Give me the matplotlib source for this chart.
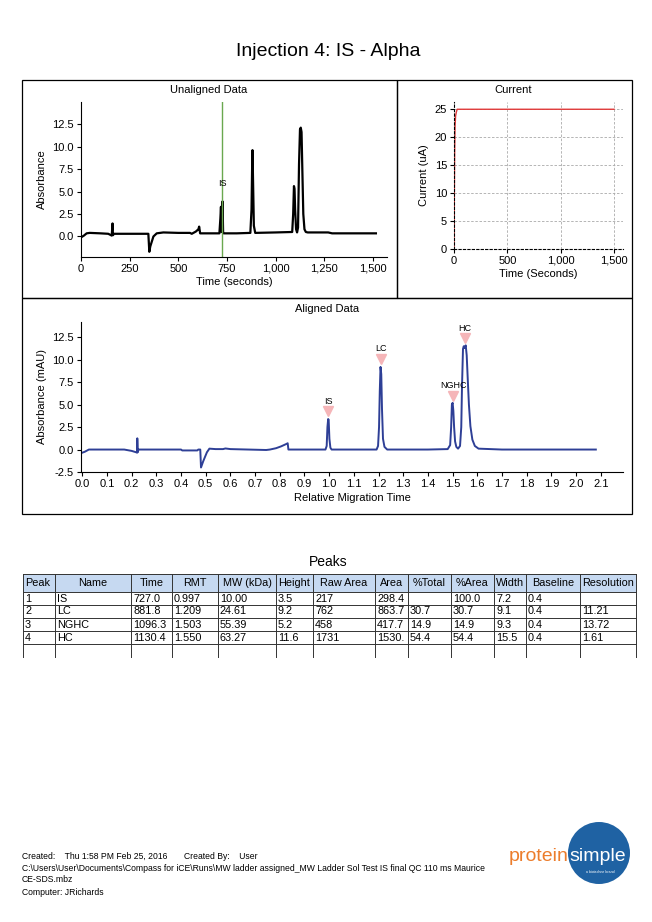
import matplotlib
matplotlib.use('Agg')
import matplotlib.pyplot as plt
from matplotlib.patches import Rectangle, Ellipse
from matplotlib.lines import Line2D
from matplotlib.ticker import FuncFormatter, MultipleLocator

plt.rcParams['font.family'] = ['Liberation Sans', 'DejaVu Sans']

# ---- data ----
# unaligned trace (time in s, absorbance)
unaligned_time = [0, 15, 29, 45, 100, 140, 158, 162, 163, 165, 168, 183, 300, 346, 351, 356, 372,
                  389, 423, 500, 560, 569, 590, 603, 607, 612, 700, 711, 716, 719, 722, 724,
                  727, 730, 733, 800, 870, 876, 879, 881, 884, 888, 895, 1000, 1085, 1090,
                  1094, 1097, 1100, 1105, 1110, 1115, 1120, 1125, 1129, 1133, 1137, 1142,
                  1148, 1155, 1165, 1270, 1290, 1515]
unaligned_abs = [-0.1, 0.1, 0.35, 0.4, 0.35, 0.3, 0.1, 1.45, 0.2, 0.15, 0.3, 0.3, 0.3, 0.3,
                 -1.7, -1.1, 0.0, 0.35, 0.45, 0.4, 0.4, 0.3, 0.55, 0.8, 1.1, 0.35, 0.35, 0.35,
                 2.0, 3.3, 0.5, 0.5, 3.9, 0.5, 0.35, 0.35, 0.4, 3.0, 7.5, 9.6, 6.0, 1.2, 0.4,
                 0.45, 0.5, 2.5, 5.6, 5.3, 3.0, 0.8, 0.45, 1.0, 8.0, 11.9, 12.1, 11.6, 7.5,
                 2.5, 0.8, 0.5, 0.45, 0.45, 0.35, 0.35]
is_marker_time = 725

# current trace (time in s, current in uA)
current_time = [0, 3, 6, 10, 15, 22, 30, 1500]
current_ua = [0, 9, 17, 22, 23.8, 24.5, 25, 25]

# aligned trace (relative migration time, absorbance in mAU)
aligned_rmt = [0.000, 0.010, 0.027, 0.100, 0.170, 0.200, 0.218, 0.222, 0.223, 0.225, 0.228,
               0.300, 0.400, 0.405, 0.466, 0.470, 0.478, 0.481, 0.490, 0.505, 0.515,
               0.540, 0.570, 0.580, 0.600, 0.745, 0.760, 0.785, 0.805, 0.825, 0.832,
               0.835, 0.900, 0.985, 0.990, 0.993, 0.996, 0.998, 1.001, 1.005, 1.010,
               1.100, 1.192, 1.198, 1.202, 1.205, 1.208, 1.211, 1.214, 1.218, 1.224,
               1.235, 1.400, 1.480, 1.490, 1.494, 1.497, 1.500, 1.503, 1.506, 1.510,
               1.515, 1.522, 1.530, 1.535, 1.538, 1.542, 1.545, 1.549, 1.553, 1.557,
               1.561, 1.566, 1.572, 1.580, 1.590, 1.605, 1.700, 2.080]
aligned_abs = [-0.35, -0.25, 0.0, 0.0, 0.0, -0.15, -0.3, -0.35, 1.25, -0.3, 0.0,
               0.0, 0.0, -0.1, -0.1, 0.0, 0.0, -2.0, -1.3, -0.3, 0.1,
               0.05, 0.05, 0.12, 0.05, -0.05, 0.0, 0.15, 0.35, 0.6, 0.7,
               0.0, 0.0, 0.0, 0.4, 2.5, 3.4, 3.3, 1.2, 0.2, 0.0,
               0.0, 0.0, 0.4, 2.5, 6.5, 9.2, 8.4, 4.5, 1.2, 0.3,
               0.0, 0.0, 0.05, 0.5, 2.5, 5.0, 5.2, 4.3, 2.5, 0.9,
               0.3, 0.1, 0.4, 2.5, 7.0, 11.2, 11.5, 11.3, 11.6, 10.5,
               8.0, 5.0, 2.6, 1.1, 0.4, 0.1, 0.0, 0.0]

peak_names = ['IS', 'LC', 'NGHC', 'HC']
peak_rmt = [0.997, 1.209, 1.503, 1.550]
marker_abs = [4.3, 10.1, 6.0, 12.4]

table_header = ['Peak', 'Name', 'Time', 'RMT', 'MW (kDa)', 'Height', 'Raw Area', 'Area',
                '%Total', '%Area', 'Width', 'Baseline', 'Resolution']
table_rows = [
    ['1', 'IS', '727.0', '0.997', '10.00', '3.5', '217', '298.4', '', '100.0', '7.2', '0.4', ''],
    ['2', 'LC', '881.8', '1.209', '24.61', '9.2', '762', '863.7', '30.7', '30.7', '9.1', '0.4', '11.21'],
    ['3', 'NGHC', '1096.3', '1.503', '55.39', '5.2', '458', '417.7', '14.9', '14.9', '9.3', '0.4', '13.72'],
    ['4', 'HC', '1130.4', '1.550', '63.27', '11.6', '1731', '1530.', '54.4', '54.4', '15.5', '0.4', '1.61'],
]

footer_lines = [
    'Created:    Thu 1:58 PM Feb 25, 2016       Created By:    User',
    'C:\\Users\\User\\Documents\\Compass for iCE\\Runs\\MW ladder assigned_MW Ladder Sol Test IS final QC 110 ms Maurice',
    'CE-SDS.mbz',
    'Computer: JRichards',
]

# ---- layout helpers (pixel coords of the 652x922 page) ----
W, H = 652, 922
fig = plt.figure(figsize=(W / 100, H / 100), dpi=100)


def fx(x):
    return x / W


def fy(y):
    return 1 - y / H


def axes_px(l, t, r, b):
    return fig.add_axes([fx(l), fy(b), (r - l) / W, (b - t) / H])


def hline(x0, x1, y, **kw):
    fig.add_artist(Line2D([fx(x0), fx(x1)], [fy(y), fy(y)], transform=fig.transFigure, **kw))


def vline(x, y0, y1, **kw):
    fig.add_artist(Line2D([fx(x), fx(x)], [fy(y0), fy(y1)], transform=fig.transFigure, **kw))


comma = FuncFormatter(lambda v, p: f'{int(v):,}')
one_dec = FuncFormatter(lambda v, p: f'{v:.1f}')
fs = 8

fig.text(fx(328), fy(52), 'Injection 4: IS - Alpha', ha='center', va='center', fontsize=14)

# panel frames
for l, t, r, b in [(22, 80, 397, 298), (397, 80, 632, 298), (22, 298, 632, 514)]:
    fig.add_artist(Rectangle((fx(l), fy(b)), (r - l) / W, (b - t) / H, transform=fig.transFigure,
                             fill=False, edgecolor='black', linewidth=0.9))


def style(ax):
    for s in ['top', 'right']:
        ax.spines[s].set_visible(False)
    ax.tick_params(direction='out', length=3, width=0.8, labelsize=fs, pad=2)


# ---- unaligned ----
ax1 = axes_px(81, 102, 387, 257)
ax1.plot(unaligned_time, unaligned_abs, color='black', lw=1.6)
ax1.axvline(is_marker_time, color='#6aa84f', lw=1)
ax1.text(is_marker_time, 5.85, 'IS', ha='center', va='center', fontsize=6.5)
ax1.set_xlim(0, 1572)
ax1.set_ylim(-2.28, 14.95)
ax1.xaxis.set_major_locator(MultipleLocator(250))
ax1.xaxis.set_major_formatter(comma)
ax1.set_yticks([0, 2.5, 5, 7.5, 10, 12.5])
ax1.yaxis.set_major_formatter(one_dec)
ax1.set_xlabel('Time (seconds)', fontsize=fs, labelpad=2)
ax1.set_ylabel('Absorbance', fontsize=fs, labelpad=4)
style(ax1)
fig.text(fx(209), fy(90), 'Unaligned Data', ha='center', va='center', fontsize=fs)

# ---- current ----
ax2 = axes_px(454, 102, 623, 249)
ax2.plot(current_time, current_ua, color='#e03a3a', lw=1)
ax2.set_xlim(0, 1584)
ax2.set_ylim(0, 26.3)
ax2.set_xticks([0, 500, 1000, 1500])
ax2.xaxis.set_major_formatter(comma)
ax2.set_yticks([0, 5, 10, 15, 20, 25])
ax2.grid(True, color='#aaaaaa', linestyle=(0, (3, 2)), linewidth=0.6)
ax2.set_xlabel('Time (Seconds)', fontsize=fs, labelpad=2)
ax2.set_ylabel('Current (uA)', fontsize=fs, labelpad=4)
style(ax2)
for s in ['left', 'bottom']:
    ax2.spines[s].set_linestyle((0, (2, 2)))
    ax2.spines[s].set_linewidth(0.8)
fig.text(fx(513), fy(90), 'Current', ha='center', va='center', fontsize=fs)

# ---- aligned ----
ax3 = axes_px(81, 322, 623, 472)
ax3.plot(aligned_rmt, aligned_abs, color='#2e3f96', lw=1.4)
ax3.plot(peak_rmt, marker_abs, linestyle='none', marker='v', color='#f5b5b8', markersize=6.5)
for n, x, y in zip(peak_names, peak_rmt, marker_abs):
    ax3.text(x, y + 1.1, n, ha='center', va='center', fontsize=6.5)
ax3.set_xlim(-0.005, 2.19)
ax3.set_ylim(-2.5, 14.2)
ax3.set_xticks([i / 10 for i in range(22)])
ax3.xaxis.set_major_formatter(one_dec)
ax3.set_yticks([-2.5, 0, 2.5, 5, 7.5, 10, 12.5])
ax3.yaxis.set_major_formatter(one_dec)
ax3.set_xlabel('Relative Migration Time', fontsize=fs, labelpad=3)
ax3.set_ylabel('Absorbance (mAU)', fontsize=fs, labelpad=4)
style(ax3)
fig.text(fx(327), fy(309), 'Aligned Data', ha='center', va='center', fontsize=fs)

# ---- peaks table ----
fig.text(fx(328), fy(562), 'Peaks', ha='center', va='center', fontsize=10)
cols = [23, 55, 131, 172, 218, 276, 313, 375, 408, 451, 494, 526, 580, 636]
row_y = [574, 592, 605, 618, 631, 644]
fig.add_artist(Rectangle((fx(cols[0]), fy(row_y[1])), (cols[-1] - cols[0]) / W,
                         (row_y[1] - row_y[0]) / H, transform=fig.transFigure,
                         facecolor='#c6d9f1', edgecolor='none'))
for y in row_y:
    hline(cols[0], cols[-1], y, color='#333333', lw=0.7)
for x in cols:
    vline(x, row_y[0], 657, color='#333333', lw=0.7)
tfs = 7.8
for i, h in enumerate(table_header):
    if i == 0:
        fig.text(fx(cols[i] + 2), fy(583), h, ha='left', va='center', fontsize=tfs)
    else:
        fig.text(fx((cols[i] + cols[i + 1]) / 2), fy(583), h, ha='center', va='center', fontsize=tfs)
for r, row in enumerate(table_rows):
    yc = (row_y[r + 1] + row_y[r + 2]) / 2
    for i, v in enumerate(row):
        fig.text(fx(cols[i] + 2), fy(yc), v, ha='left', va='center', fontsize=tfs)

# ---- footer ----
for y, line in zip([856, 868, 879, 892], footer_lines):
    fig.text(fx(22), fy(y), line, ha='left', va='center', fontsize=6.2)

# logo
fig.add_artist(Ellipse((fx(599), fy(853)), 62 / W, 62 / H, transform=fig.transFigure,
                       facecolor='#1f62a3', edgecolor='none'))
fig.text(fx(569), fy(856), 'protein', ha='right', va='center', fontsize=14, color='#ec7d2c')
fig.text(fx(569), fy(856), 'simple', ha='left', va='center', fontsize=14, color='white')
fig.text(fx(600), fy(872), 'a biotechne brand', ha='center', va='center', fontsize=2.5, color='white')

fig.savefig('out.png', dpi=100)
